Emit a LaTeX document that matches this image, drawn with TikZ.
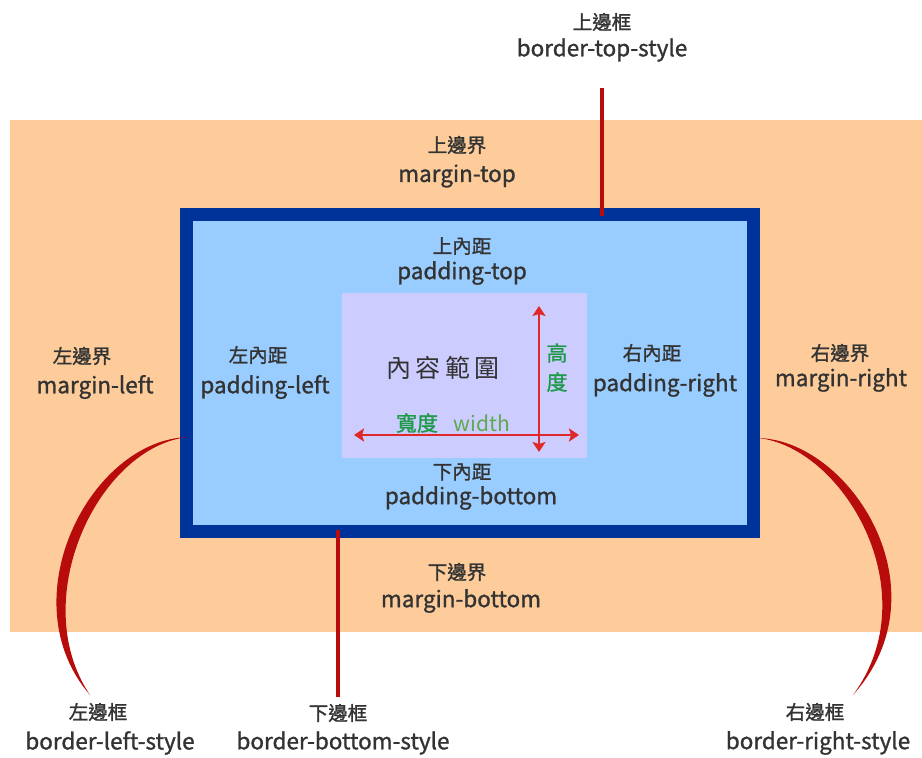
\documentclass[tikz,border=0pt]{standalone}
\usepackage{fontspec}
\setmainfont{Noto Sans CJK TC}[FakeBold=1.2]
\newfontfamily\cjkwide[LetterSpace=18]{Noto Sans CJK TC}
\newfontfamily\cjkplain{Noto Sans CJK TC}
\usetikzlibrary{arrows.meta}
\definecolor{marginc}{HTML}{FDCC9A}
\definecolor{borderc}{HTML}{003399}
\definecolor{paddingc}{HTML}{99CCFF}
\definecolor{contentc}{HTML}{CCCCFF}
\definecolor{textc}{HTML}{333333}
\definecolor{linec}{HTML}{B80C0C}
\definecolor{arrowc}{HTML}{E02828}
\definecolor{greenA}{HTML}{1F9A4A}
\definecolor{greenB}{HTML}{5EAA4E}
\begin{document}
\begin{tikzpicture}[x=1pt,y=-1pt,
  zh/.style={text=textc,font=\fontsize{19.5}{20}\selectfont,inner sep=0pt},
  en/.style={text=textc,font=\fontsize{22.5}{23}\selectfont,inner sep=0pt},
  pointer/.style={draw=linec,line width=4pt},
  dim/.style={draw=arrowc,line width=2pt,{Stealth[length=10pt,width=13pt,inset=2pt]}-{Stealth[length=10pt,width=13pt,inset=2pt]}}
]
\useasboundingbox (0,0) rectangle (922,758);
\fill[white] (0,0) rectangle (922,758);
% margin
\fill[marginc] (10,120) rectangle (922,632);
% border + padding
\filldraw[fill=paddingc,draw=borderc,line width=13pt] (186.5,214.5) rectangle (753.5,531.5);
% content
\fill[contentc] (342,293) rectangle (587,458);

% dimension arrows
\coordinate (vt) at (539,306);
\coordinate (vb) at (539,452);
\coordinate (hl) at (354,435);
\coordinate (hr) at (579,435);
\draw[dim] (vb) -- (vt);
\draw[dim] (hl) -- (hr);

\node[text=textc,font=\cjkwide\fontsize{25}{26}\selectfont,inner sep=0pt] (content) at (443,368) {內容範圍};
\node[text=greenA,font=\fontsize{21}{22}\selectfont,inner sep=0pt] (h1) at (557,353) {高};
\node[text=greenA,font=\fontsize{21}{22}\selectfont,inner sep=0pt] (h2) at (557,382) {度};
\node[text=greenA,font=\fontsize{21}{22}\selectfont,inner sep=0pt] (w1) at (417,423) {寬度};
\node[text=greenB,font=\cjkplain\fontsize{21}{22}\selectfont,inner sep=0pt] (w2) at (482,423) {width};

% labels
\node[zh] (btz) at (602,22) {上邊框};
\node[en] (bte) at (602,50) {border-top-style};
\node[zh] (mtz) at (457,145) {上邊界};
\node[en] (mte) at (457,176) {margin-top};
\node[zh] (ptz) at (462,246) {上內距};
\node[en] (pte) at (462,273) {padding-top};
\node[zh] (mlz) at (82,356) {左邊界};
\node[en] (mle) at (95,387) {margin-left};
\node[zh] (plz) at (258,355) {左內距};
\node[en] (ple) at (265,387) {padding-left};
\node[zh] (prz) at (652,353) {右內距};
\node[en] (pre) at (665,385) {padding-right};
\node[zh] (mrz) at (840,353) {右邊界};
\node[en] (mre) at (841,380) {margin-right};
\node[zh] (pbz) at (462,472) {下內距};
\node[en] (pbe) at (471,498) {padding-bottom};
\node[zh] (mbz) at (457,572) {下邊界};
\node[en] (mbe) at (461,601) {margin-bottom};
\node[zh] (bbz) at (338,713) {下邊框};
\node[en] (bbe) at (343,743) {border-bottom-style};
\node[zh] (blz) at (98,712) {左邊框};
\node[en] (ble) at (110,743) {border-left-style};
\node[zh] (brz) at (815,712) {右邊框};
\node[en] (bre) at (818,743) {border-right-style};

% pointers
\coordinate (toptip) at (602,88);
\coordinate (topend) at (602,216);
\draw[pointer] (toptip) -- (topend);
\coordinate (botstart) at (338,530);
\coordinate (bottip) at (338,697);
\draw[pointer] (botstart) -- (bottip);

% tapered curves
\coordinate (ls) at (188,437);
\coordinate (le) at (90,695);
\fill[linec] (ls) .. controls (90,440) and (8,600) .. (le)
  .. controls (26,600) and (98,447) .. (ls) -- cycle;
\coordinate (rs) at (758,438);
\coordinate (re) at (853,695);
\fill[linec] (rs) .. controls (850,440) and (947,590) .. (re)
  .. controls (929,592) and (843,447) .. (rs) -- cycle;
\end{tikzpicture}
\end{document}
